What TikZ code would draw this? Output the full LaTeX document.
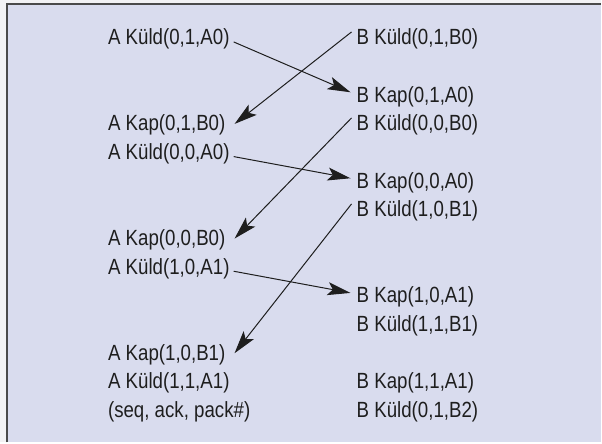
\documentclass[tikz,border=0pt]{standalone}
\usepackage{fontspec}
\setmainfont[FakeStretch=0.85]{Liberation Sans}
\usetikzlibrary{arrows.meta}
\definecolor{panel}{HTML}{D9DCEE}
\definecolor{edge}{HTML}{4A4A4A}
\definecolor{outside}{HTML}{F2F2F4}
\definecolor{ink}{HTML}{1E1E1E}
\begin{document}
\begin{tikzpicture}[x=1pt,y=-1pt,
  msg/.style={inner sep=0pt, font=\fontsize{22}{26}\selectfont, text=ink},
  left msg/.style={msg, anchor=base west},
  arr/.style={draw=ink, line width=1pt,
    -{Stealth[length=23pt,width=13pt,inset=5pt]}}]
  % page and framed panel
  \fill[outside] (0,0) rectangle (602,443);
  \fill[panel] (7,4) rectangle (602,443);
  \draw[edge, line width=1.6pt] (7,443) -- (7,4) -- (602,4);

  % station A (left column)
  \node[left msg] (aS1) at (108,45)    {A Küld(0,1,A0)};
  \node[left msg] (aR1) at (108,131.1) {A Kap(0,1,B0)};
  \node[left msg] (aS2) at (108,159.8) {A Küld(0,0,A0)};
  \node[left msg] (aR2) at (108,245.9) {A Kap(0,0,B0)};
  \node[left msg] (aS3) at (108,274.6) {A Küld(1,0,A1)};
  \node[left msg] (aR3) at (108,360.7) {A Kap(1,0,B1)};
  \node[left msg] (aS4) at (108,389.4) {A Küld(1,1,A1)};
  \node[left msg] (key) at (108,418.1) {(seq, ack, pack\#)};

  % station B (right column)
  \node[left msg] (bS1) at (357,45)    {B Küld(0,1,B0)};
  \node[left msg] (bR1) at (357,102.4) {B Kap(0,1,A0)};
  \node[left msg] (bS2) at (357,131.1) {B Küld(0,0,B0)};
  \node[left msg] (bR2) at (357,188.5) {B Kap(0,0,A0)};
  \node[left msg] (bS3) at (357,217.2) {B Küld(1,0,B1)};
  \node[left msg] (bR3) at (357,303.3) {B Kap(1,0,A1)};
  \node[left msg] (bS4) at (357,332)   {B Küld(1,1,B1)};
  \node[left msg] (bR4) at (357,389.4) {B Kap(1,1,A1)};
  \node[left msg] (bS5) at (357,418.1) {B Küld(0,1,B2)};

  % frames from A to B
  \draw[arr] ([shift={(4,-3)}]aS1.base east) -- ([shift={(-6,-10)}]bR1.base west);
  \draw[arr] ([shift={(4,-3)}]aS2.base east) -- ([shift={(-6,-10)}]bR2.base west);
  \draw[arr] ([shift={(4,-3)}]aS3.base east) -- ([shift={(-6,-10)}]bR3.base west);

  % frames from B to A
  \draw[arr] ([shift={(-5,-13)}]bS1.base west) -- ([shift={(9,-7)}]aR1.base east);
  \draw[arr] ([shift={(-5,-13)}]bS2.base west) -- ([shift={(9,-7)}]aR2.base east);
  \draw[arr] ([shift={(-5,-13)}]bS3.base west) -- ([shift={(9,-7)}]aR3.base east);
\end{tikzpicture}
\end{document}
